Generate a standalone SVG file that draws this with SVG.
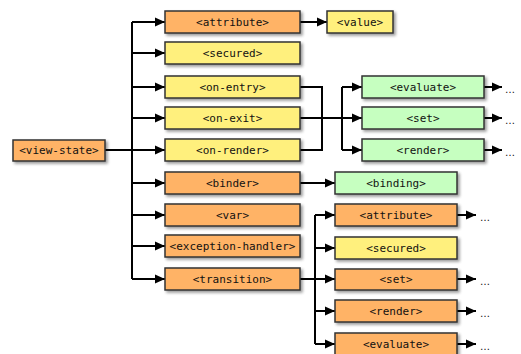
<svg xmlns="http://www.w3.org/2000/svg" width="521" height="354" viewBox="0 0 521 354">
<defs>
<filter id="sh" x="-10%" y="-20%" width="130%" height="160%">
<feGaussianBlur in="SourceAlpha" stdDeviation="1.5"/>
<feOffset dx="2" dy="2" result="b"/>
<feComponentTransfer><feFuncA type="linear" slope="0.4"/></feComponentTransfer>
<feMerge><feMergeNode/><feMergeNode in="SourceGraphic"/></feMerge>
</filter>
<marker id="ah" markerWidth="10" markerHeight="10" refX="10" refY="5" orient="auto" markerUnits="userSpaceOnUse">
<path d="M0,0.5 L10,5 L0,9.5 Z" fill="#000"/>
</marker>
</defs>
<style>
.b rect{stroke:#333;stroke-width:1.5;filter:url(#sh)}
.o rect{fill:#FFB366}
.y rect{fill:#FFF07D}
.g rect{fill:#C6FFC0}
text{font-family:"DejaVu Sans Mono","Liberation Mono",monospace;font-size:11px;fill:#111;text-anchor:middle;dominant-baseline:central}
.c path{fill:none;stroke:#000;stroke-width:2}
.c .a{marker-end:url(#ah)}
.dots{text-anchor:start;font-family:"DejaVu Sans","Liberation Sans",sans-serif;font-size:10px}
</style>
<g class="c" id="connectors">
<path d="M105,150 H132"/>
<path d="M132,22 V279"/>
<path class="a" d="M132,22 H165"/>
<path class="a" d="M132,53 H165"/>
<path class="a" d="M132,87 H165"/>
<path class="a" d="M132,118 H165"/>
<path class="a" d="M132,150 H165"/>
<path class="a" d="M132,183 H165"/>
<path class="a" d="M132,215 H165"/>
<path class="a" d="M132,246 H165"/>
<path class="a" d="M132,279 H165"/>
<path class="a" d="M300,22 H327"/>
<path d="M300,87 H322 V150 H300"/>
<path class="a" d="M300,118 H362"/>
<path d="M342,87 V150"/>
<path class="a" d="M342,87 H362"/>
<path class="a" d="M342,150 H362"/>
<path class="a" d="M484,87 H502"/>
<path class="a" d="M484,118 H502"/>
<path class="a" d="M484,150 H502"/>
<path class="a" d="M300,183 H335"/>
<path d="M300,279 H315"/>
<path d="M315,215 V344"/>
<path class="a" d="M315,215 H335"/>
<path class="a" d="M315,248 H335"/>
<path class="a" d="M315,279 H335"/>
<path class="a" d="M315,311 H335"/>
<path class="a" d="M315,344 H335"/>
<path class="a" d="M457,215 H476"/>
<path class="a" d="M457,279 H476"/>
<path class="a" d="M457,311 H476"/>
<path class="a" d="M457,344 H476"/>
<text class="dots" x="505" y="89">…</text>
<text class="dots" x="505" y="120">…</text>
<text class="dots" x="505" y="152">…</text>
<text class="dots" x="480" y="217">…</text>
<text class="dots" x="480" y="281">…</text>
<text class="dots" x="480" y="313">…</text>
<text class="dots" x="480" y="346">…</text>
</g>
<g id="view-state" class="b o"><rect x="13" y="140" width="92" height="21"/><text x="59" y="150.5">&lt;view-state&gt;</text></g>
<g id="attribute" class="b o"><rect x="165" y="11" width="135" height="22"/><text x="232.5" y="22">&lt;attribute&gt;</text></g>
<g id="secured" class="b y"><rect x="165" y="42" width="135" height="22"/><text x="232.5" y="53">&lt;secured&gt;</text></g>
<g id="on-entry" class="b y"><rect x="165" y="76" width="135" height="22"/><text x="232.5" y="87">&lt;on-entry&gt;</text></g>
<g id="on-exit" class="b y"><rect x="165" y="107" width="135" height="22"/><text x="232.5" y="118">&lt;on-exit&gt;</text></g>
<g id="on-render" class="b y"><rect x="165" y="139" width="135" height="22"/><text x="232.5" y="150">&lt;on-render&gt;</text></g>
<g id="binder" class="b o"><rect x="165" y="172" width="135" height="22"/><text x="232.5" y="183">&lt;binder&gt;</text></g>
<g id="var" class="b o"><rect x="165" y="204" width="135" height="22"/><text x="232.5" y="215">&lt;var&gt;</text></g>
<g id="exception-handler" class="b o"><rect x="165" y="235" width="135" height="22"/><text x="232.5" y="246">&lt;exception-handler&gt;</text></g>
<g id="transition" class="b o"><rect x="165" y="268" width="135" height="22"/><text x="232.5" y="279">&lt;transition&gt;</text></g>
<g id="value" class="b y"><rect x="327" y="11" width="66" height="22"/><text x="360" y="22">&lt;value&gt;</text></g>
<g id="evaluate1" class="b g"><rect x="362" y="76" width="122" height="22"/><text x="423" y="87">&lt;evaluate&gt;</text></g>
<g id="set1" class="b g"><rect x="362" y="107" width="122" height="22"/><text x="423" y="118">&lt;set&gt;</text></g>
<g id="render1" class="b g"><rect x="362" y="139" width="122" height="22"/><text x="423" y="150">&lt;render&gt;</text></g>
<g id="binding" class="b g"><rect x="335" y="172" width="122" height="22"/><text x="396" y="183">&lt;binding&gt;</text></g>
<g id="attribute2" class="b o"><rect x="335" y="204" width="122" height="22"/><text x="396" y="215">&lt;attribute&gt;</text></g>
<g id="secured2" class="b y"><rect x="335" y="237" width="122" height="22"/><text x="396" y="248">&lt;secured&gt;</text></g>
<g id="set2" class="b o"><rect x="335" y="269" width="122" height="21"/><text x="396" y="279.5">&lt;set&gt;</text></g>
<g id="render2" class="b o"><rect x="335" y="300" width="122" height="22"/><text x="396" y="311">&lt;render&gt;</text></g>
<g id="evaluate2" class="b o"><rect x="335" y="333" width="122" height="22"/><text x="396" y="344">&lt;evaluate&gt;</text></g>
</svg>
